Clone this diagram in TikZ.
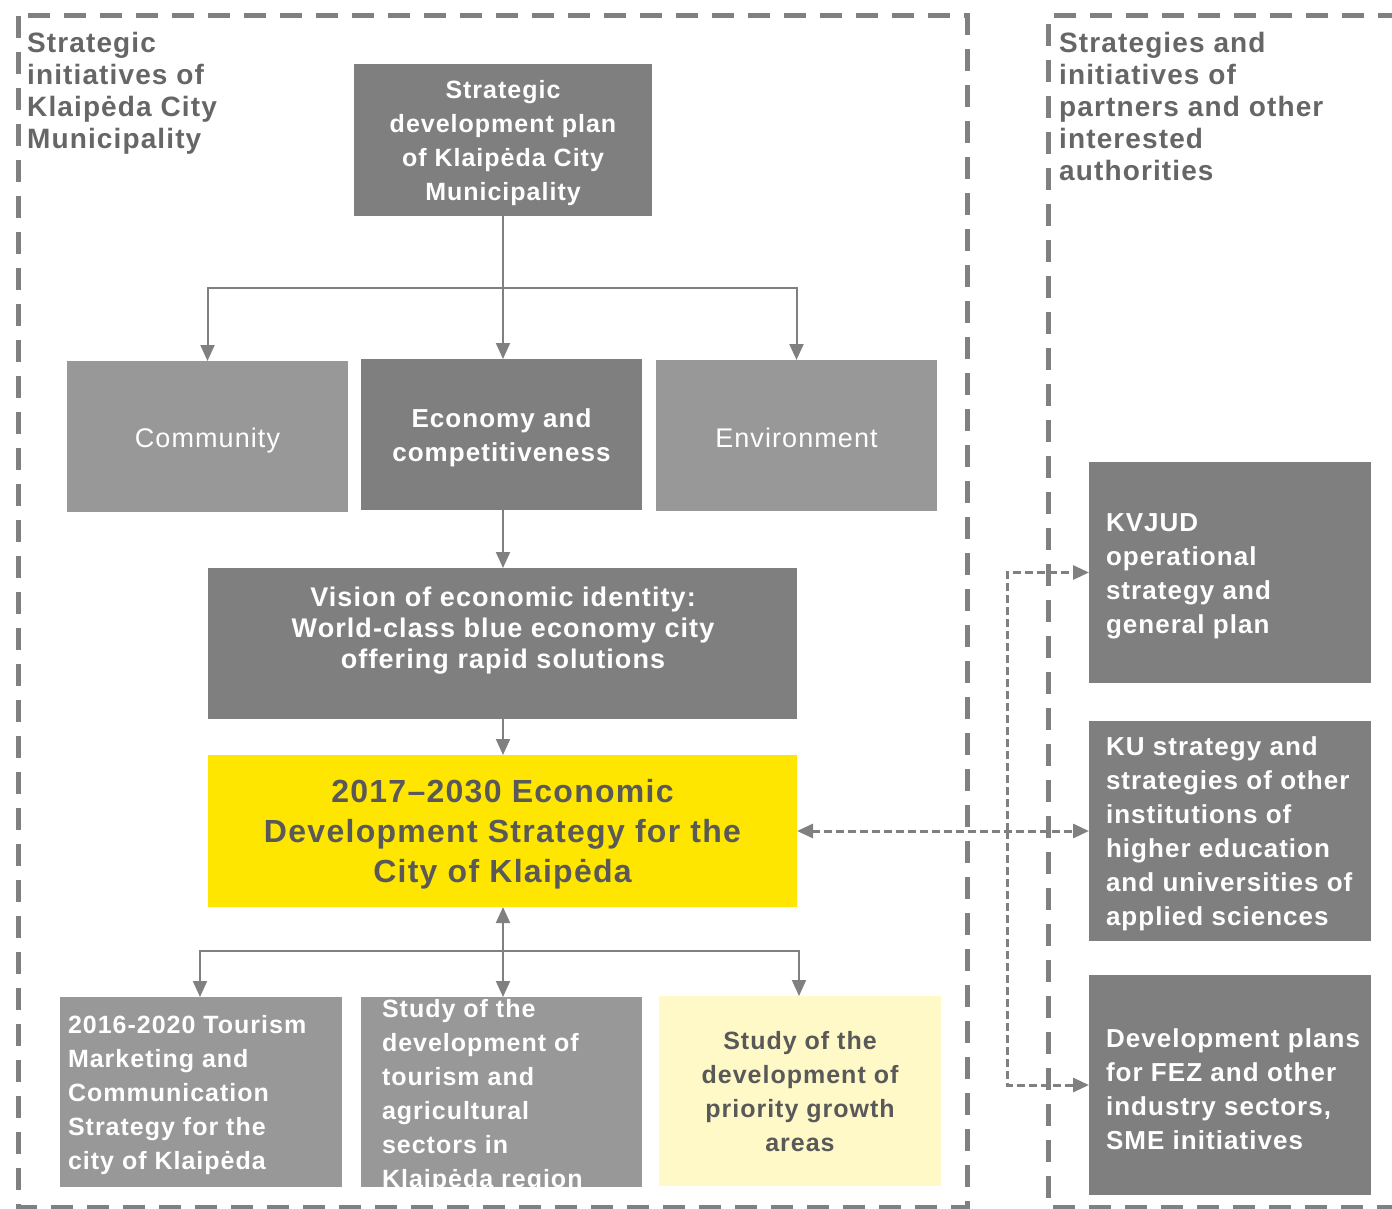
\documentclass[tikz,border=0pt]{standalone}
\usepackage{fontspec}
\setmainfont{Liberation Sans}[LetterSpace=4]
\usetikzlibrary{arrows.meta}

\definecolor{boxdark}{HTML}{7F7F7F}
\definecolor{boxlight}{HTML}{989898}
\definecolor{mainyellow}{HTML}{FFE600}
\definecolor{paleyellow}{HTML}{FFF9C8}
\definecolor{ink}{HTML}{595959}
\definecolor{titleink}{HTML}{666666}
\definecolor{lineclr}{HTML}{808080}

\begin{document}
\begin{tikzpicture}[x=1pt, y=-1pt,
  box/.style={rectangle, draw=none, inner sep=0pt, outer sep=0pt, align=center, text=white},
  dark/.style={box, fill=boxdark},
  light/.style={box, fill=boxlight},
  bodyfont/.style={font=\fontsize{26}{34}\selectfont\bfseries},
  tip/.tip={Triangle[length=16pt, width=14pt]},
  conn/.style={draw=lineclr, line width=2pt, -tip},
  plain/.style={draw=lineclr, line width=2pt},
  dconn/.style={draw=lineclr, line width=3pt, dash pattern=on 8pt off 4pt},
  border/.style={draw=lineclr, line width=5pt, dash pattern=on 22pt off 14pt},
  heading/.style={anchor=north west, inner sep=0pt, align=left, text=titleink,
    font=\fontsize{28}{32}\selectfont\bfseries},
]
\useasboundingbox (0,0) rectangle (1392,1209);

% group frames
\draw[border] (18,16) rectangle (967,1207);
\draw[border] (1400,16) -- (1048,16) -- (1048,1207) -- (1400,1207);

% group headings
\node[heading] (lefthead) at (27,32) {Strategic\\initiatives of\\Klaipėda City\\Municipality};
\node[heading] (righthead) at (1059,32) {Strategies and\\initiatives of\\partners and other\\interested\\authorities};

% municipal plan and its three pillars
\node[dark, minimum width=298pt, minimum height=152pt] (plan) at (503,140) {};
\node[box, font=\fontsize{25}{34}\selectfont\bfseries] (plantext) at (503,143.5)
  {Strategic\\development plan\\of Klaipėda City\\Municipality};
\node[light, minimum width=281pt, minimum height=151pt] (community) at (207.5,436.5) {};
\node[box, font=\fontsize{27}{32}\selectfont] (communitytext) at (207.5,440.5) {Community};
\node[dark, minimum width=281pt, minimum height=151pt] (economy) at (501.5,434.5) {};
\node[box, bodyfont] (economytext) at (501.5,437.5) {Economy and\\competitiveness};
\node[light, minimum width=281pt, minimum height=151pt] (environment) at (796.5,435.5) {};
\node[box, font=\fontsize{27}{32}\selectfont] (environmenttext) at (796.5,437.5) {Environment};

% vision and strategy
\node[dark, minimum width=589pt, minimum height=151pt] (vision) at (502.5,643.5) {};
\node[box, font=\fontsize{27}{31}\selectfont\bfseries] (visiontext) at (503,630.5)
  {Vision of economic identity:\\World-class blue economy city\\offering rapid solutions};
\node[box, fill=mainyellow, minimum width=589pt, minimum height=152pt] (strat) at (502.5,831) {};
\node[box, text=ink, font=\fontsize{32}{40}\selectfont\bfseries] (strattext) at (502.5,834)
  {2017–2030 Economic\\Development Strategy for the\\City of Klaipėda};

% supporting studies
\node[light, minimum width=282pt, minimum height=190pt] (tour) at (201,1092) {};
\node[box, anchor=west, align=left, font=\fontsize{25}{34}\selectfont\bfseries] (tourtext)
  at (68,1095) {2016-2020 Tourism\\Marketing and\\Communication\\Strategy for the\\city of Klaipėda};
\node[light, minimum width=281pt, minimum height=190pt] (agri) at (501.5,1092) {};
\begin{scope}
  \clip (361,997) rectangle (642,1187);
  \node[box, anchor=north west, align=left, font=\fontsize{25}{34}\selectfont\bfseries] (agritext)
    at (382,999) {Study of the\\development of\\tourism and\\agricultural\\sectors in\\Klaipėda region};
\end{scope}
\node[box, fill=paleyellow, minimum width=282pt, minimum height=190pt] (prio) at (800,1091) {};
\node[box, text=ink, font=\fontsize{25}{34}\selectfont\bfseries] (priotext) at (800,1092)
  {Study of the\\development of\\priority growth\\areas};

% partner strategies
\node[dark, minimum width=282pt, minimum height=221pt] (kvjud) at (1230,572.5) {};
\node[box, anchor=west, align=left, bodyfont] (kvjudtext) at (1106,576)
  {KVJUD\\operational\\strategy and\\general plan};
\node[dark, minimum width=282pt, minimum height=220pt] (ku) at (1230,831) {};
\node[box, anchor=west, align=left, bodyfont] (kutext) at (1106,834)
  {KU strategy and\\strategies of other\\institutions of\\higher education\\and universities of\\applied sciences};
\node[dark, minimum width=282pt, minimum height=220pt] (fez) at (1230,1085) {};
\node[box, anchor=west, align=left, bodyfont] (feztext) at (1106,1089)
  {Development plans\\for FEZ and other\\industry sectors,\\SME initiatives};

% connectors from the plan
\coordinate (split) at (503,288);
\draw[plain] (plan.south) -- (split);
\draw[conn] (split) -| (community.north);
\draw[conn] (split) -- (split |- economy.north);
\draw[conn] (split) -| (environment.north);
\draw[conn] (economy.south -| split) -- (vision.north -| split);
\draw[conn] (vision.south -| split) -- (strat.north -| split);

% connectors to the studies
\coordinate (bsplit) at (503,951);
\draw[conn, tip-tip] (strat.south -| bsplit) -- (bsplit |- agri.north);
\draw[conn] (bsplit) -| ([xshift=-1pt]tour.north);
\draw[conn] (bsplit) -| ([xshift=-1pt]prio.north);

% links with partner strategies
\coordinate (djoin) at (1007,831);
\draw[dconn, tip-tip] (strat.east) -- (ku.west);
\draw[dconn, -tip] (djoin) |- (kvjud.west);
\draw[dconn, -tip] (djoin) |- (fez.west);
\end{tikzpicture}
\end{document}
